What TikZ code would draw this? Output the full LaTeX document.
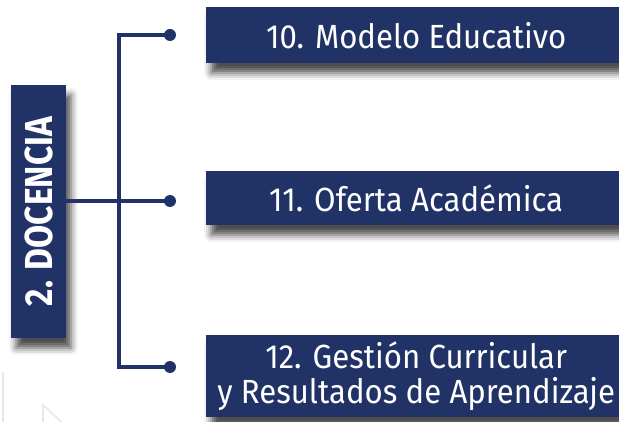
\documentclass[tikz,border=0pt]{standalone}
\usepackage{fontspec}
\setmainfont{Fira Sans}[FakeStretch=0.93]
\newfontface\docfont{Fira Sans Bold}[FakeStretch=0.86]
\usetikzlibrary{shadows.blur}
\definecolor{navy}{RGB}{33,51,102}
\tikzset{
  box/.style={fill=navy, text=white, inner sep=0pt, align=center,
    blur shadow={shadow xshift=5pt, shadow yshift=-10pt, shadow blur radius=7pt, shadow opacity=70}},
  boxtext/.style={font=\fontsize{33.5}{35}\selectfont},
  conn/.style={draw=navy, line width=3.4pt},
  dot/.style={circle, fill=navy, minimum size=12pt, inner sep=0pt},
  faint/.style={draw=gray!18, line width=1.6pt}
}
\begin{document}
\begin{tikzpicture}[x=1pt,y=-1pt]
\useasboundingbox (0,0) rectangle (619,422);
% faint background lines
\draw[faint] (3,372) -- (3,430);
\draw[faint] (43,430) -- (43,405) -- (70,430);
% boxes
\node (doc) [box, rotate=90, minimum width=253pt, minimum height=55pt, font=\docfont\fontsize{39}{42}\selectfont] at (38.5,211.5) {2. DOCENCIA};
\node (b10) [box, boxtext, anchor=north west, minimum width=420pt, minimum height=56pt] at (206,7) {10. Modelo Educativo};
\node (b11) [box, boxtext, anchor=north west, minimum width=420pt, minimum height=54pt] at (206,171) {11. Oferta Académica};
\node (b12) [box, boxtext, anchor=north west, minimum width=420pt, minimum height=82pt] at (206,335) {12. Gestión Curricular\\ y Resultados de Aprendizaje};
% dots
\node (d10) [dot] at (170,35) {};
\node (d11) [dot] at (170,201) {};
\node (d12) [dot] at (170,367) {};
\coordinate (top) at (119,35);
\coordinate (bot) at (119,367);
% connectors
\draw[conn] (d10.center) -- (top) -- (bot) -- (d12.center);
\draw[conn] (doc.south |- d11) -- (d11.center);
\end{tikzpicture}
\end{document}
